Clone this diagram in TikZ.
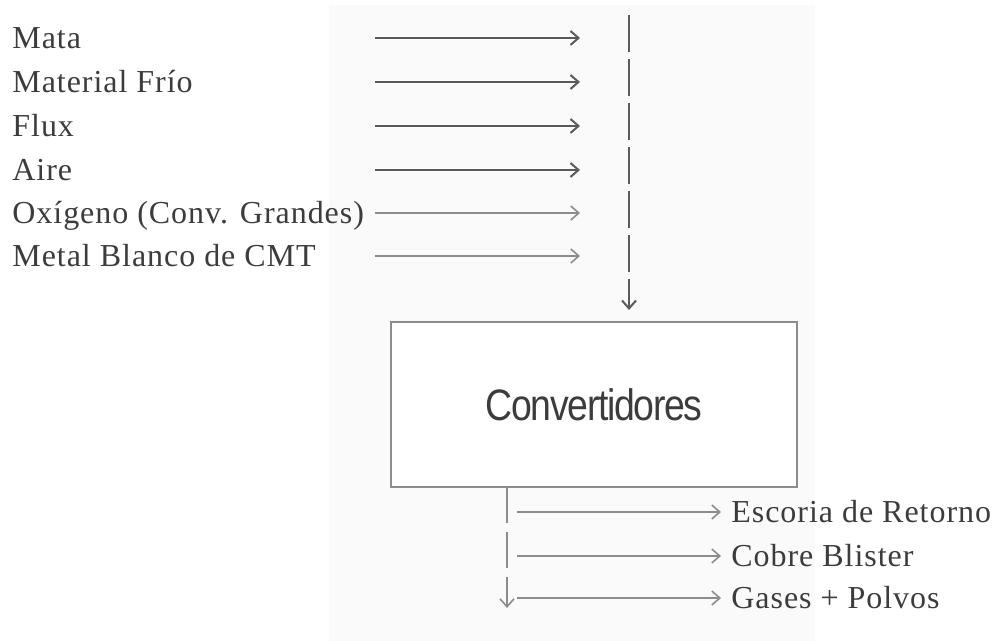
\documentclass[tikz,border=0pt]{standalone}
\usepackage{fontspec}
\usetikzlibrary{arrows.meta}
\setmainfont[LetterSpace=3]{Liberation Serif}
\newfontfamily\boxfont[FakeStretch=0.85,LetterSpace=-3]{Liberation Sans}
\definecolor{inkgray}{HTML}{3C3C3C}
\definecolor{darkline}{HTML}{5A5A5A}
\definecolor{lightline}{HTML}{8C8C8C}
\definecolor{panelgray}{HTML}{FAFAFA}
\tikzset{
    label/.style={anchor=west, inner sep=0pt, text height=10.5pt, text depth=0pt, text=inkgray, font=\fontsize{16}{19}\selectfont},
    darkflow/.style={draw=darkline, line width=1pt, -{Straight Barb[length=4pt, width=7pt]}},
    lightflow/.style={draw=lightline, line width=0.8pt, -{Straight Barb[length=4pt, width=7pt]}}
}
\begin{document}
\begin{tikzpicture}[x=0.5pt, y=-0.5pt]
            \useasboundingbox (0, 0) rectangle (992, 641);
            \fill[panelgray] (329, 5) rectangle (815, 641);
            \node (mata) at (12, 38) [label] {Mata};
            \node (frio) at (12, 82) [label] {Material Frío};
            \node (flux) at (12, 126) [label] {Flux};
            \node (aire) at (12, 170) [label] {Aire};
            \node (oxigeno) at (12, 213) [label] {Oxígeno (Conv. Grandes)};
            \node (metal) at (12, 256) [label] {Metal Blanco de CMT};
            \coordinate (a1) at (375, 38);
            \coordinate (b1) at (580, 38);
            \coordinate (a2) at (375, 82);
            \coordinate (b2) at (580, 82);
            \coordinate (a3) at (375, 126);
            \coordinate (b3) at (580, 126);
            \coordinate (a4) at (375, 170);
            \coordinate (b4) at (580, 170);
            \coordinate (a5) at (375, 213);
            \coordinate (b5) at (580, 213);
            \coordinate (a6) at (375, 256);
            \coordinate (b6) at (580, 256);
            \draw[darkflow] (a1) -- (b1);
            \draw[darkflow] (a2) -- (b2);
            \draw[darkflow] (a3) -- (b3);
            \draw[darkflow] (a4) -- (b4);
            \draw[lightflow] (a5) -- (b5);
            \draw[lightflow] (a6) -- (b6);
            \node (conv) at (594, 404.5) [draw=lightline, line width=1pt, fill=white, minimum width=203pt, minimum height=82.5pt, inner sep=0pt, text=inkgray, font=\boxfont\fontsize{22}{26}\selectfont] {Convertidores};
            \coordinate (feed) at (629, 15);
            \coordinate (inlet) at (629, 310);
            \draw[darkflow, dash pattern=on 18.5pt off 3.5pt] (feed) -- (inlet);
            \coordinate (outlet) at (507, 487);
            \coordinate (drop) at (507, 608);
            \draw[lightflow, dash pattern=on 18pt off 4.5pt] (outlet) -- (drop);
            \node (escoria) at (731, 512) [label] {Escoria de Retorno};
            \node (cobre) at (731, 556) [label] {Cobre Blister};
            \node (gases) at (731, 598) [label] {Gases + Polvos};
            \coordinate (e1) at (517, 512);
            \coordinate (e2) at (517, 556);
            \coordinate (e3) at (517, 598);
            \draw[lightflow, shorten >=5pt] (e1) -- (escoria);
            \draw[lightflow, shorten >=5pt] (e2) -- (cobre);
            \draw[lightflow, shorten >=5pt] (e3) -- (gases);
        \end{tikzpicture}
\end{document}
